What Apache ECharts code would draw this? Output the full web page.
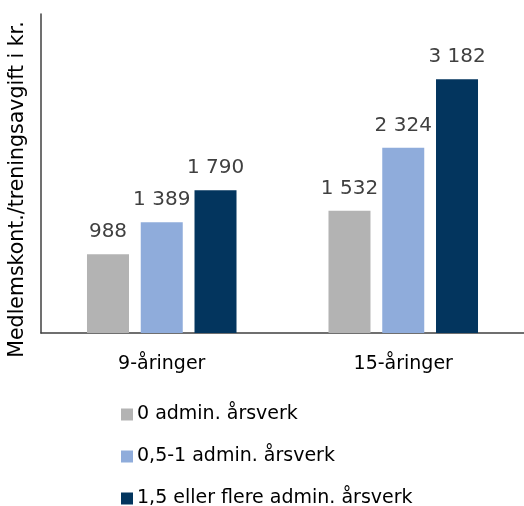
<!DOCTYPE html>
<html><head><meta charset="utf-8">
<script src="https://cdn.jsdelivr.net/npm/echarts@6/dist/echarts.min.js"></script>
<style>html,body{margin:0;padding:0;background:#fff}#c{width:524px;height:506px}</style>
</head><body><div id="c"></div>
<script>
var categories = ['9-åringer', '15-åringer'];
var seriesNames = ['0 admin. årsverk', '0,5-1 admin. årsverk', '1,5 eller flere admin. årsverk'];
var values0 = [988, 1532];
var values1 = [1389, 2324];
var values2 = [1790, 3182];
var colors = ['#B3B3B3', '#8FACDB', '#03355E'];
var yTitle = 'Medlemskont./treningsavgift i kr.';
var FONT = 'DejaVu Sans';

function fmt(v){ return String(v).replace(/\B(?=(\d{3})+(?!\d))/g, ' '); }

var chart = echarts.init(document.getElementById('c'));
var data = [values0, values1, values2];
chart.setOption({
  animation: false,
  textStyle: {fontFamily: FONT},
  grid: {left: 41, right: 0, top: 14, bottom: 173, outerBoundsMode: 'none', containLabel: false},
  legend: {
    orient: 'vertical', left: 121, top: 405, height: 110, padding: 0,
    itemWidth: 12, itemHeight: 12, itemGap: 23,
    icon: 'rect',
    textStyle: {fontFamily: FONT, fontSize: 19, lineHeight: 19, color: '#000', padding: [0, 0, 0, -1]},
    data: seriesNames
  },
  xAxis: {
    type: 'category', data: categories,
    axisLine: {lineStyle: {color: '#404040', width: 1.5}},
    axisTick: {show: false},
    axisLabel: {fontFamily: FONT, fontSize: 19, color: '#000', margin: 22}
  },
  yAxis: {
    type: 'value', min: 0, max: 4000,
    name: yTitle, nameLocation: 'middle', nameRotate: 90, nameGap: 13,
    nameTextStyle: {fontFamily: FONT, fontSize: 20.5, color: '#000', padding: [0, 32, 0, 0]},
    axisLine: {show: true, lineStyle: {color: '#404040', width: 1.5}},
    axisTick: {show: false}, axisLabel: {show: false}, splitLine: {show: false}
  },
  series: seriesNames.map(function(n, i){
    return {
      name: n, type: 'bar', data: data[i], barWidth: 42, barGap: '28%',
      itemStyle: {color: colors[i]},
      label: {show: true, position: 'top', distance: 12, fontFamily: FONT, fontSize: 20, color: '#404040',
        formatter: function(p){ return fmt(p.value); }}
    };
  })
});
</script></body></html>
